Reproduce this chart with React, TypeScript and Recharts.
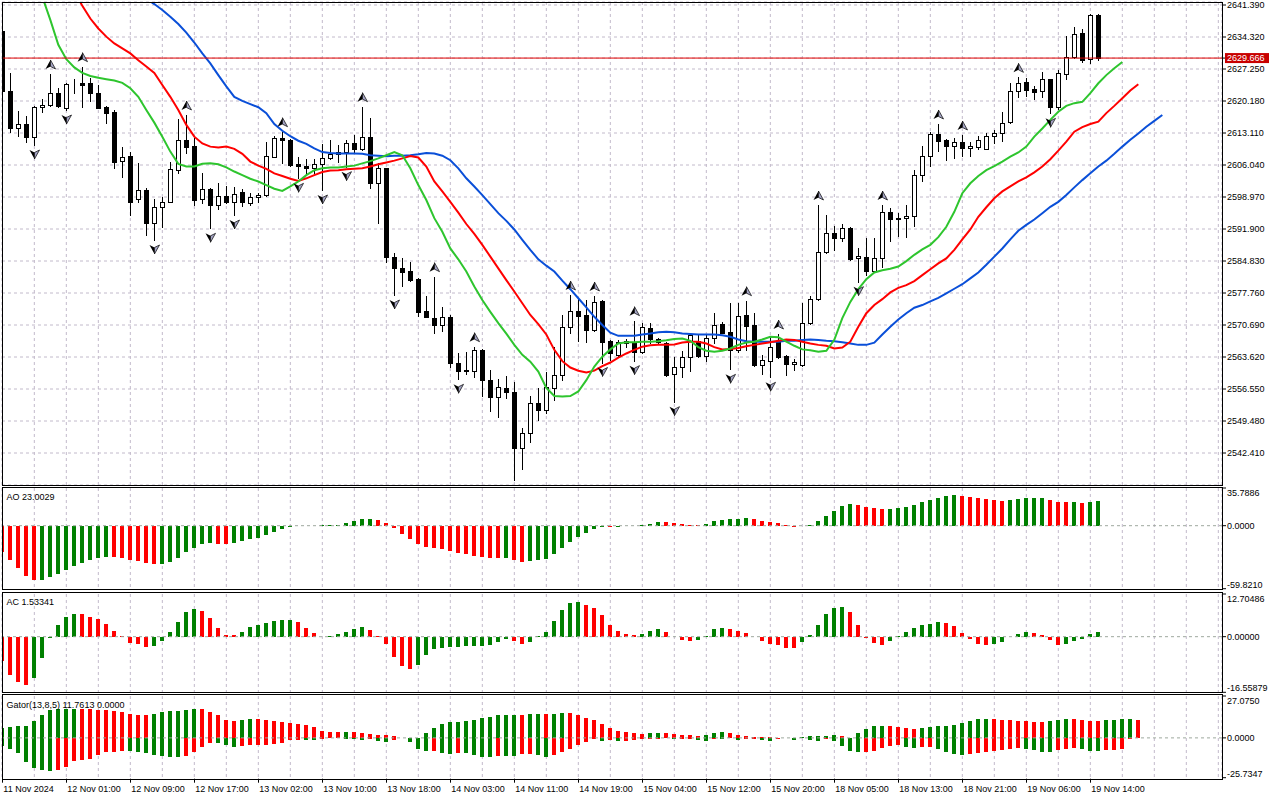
import React from "react";
import {
  ComposedChart,
  Bar,
  Line,
  Scatter,
  XAxis,
  YAxis,
  CartesianGrid,
  ReferenceLine,
} from "recharts";

const FONT = "'Liberation Sans', Arial, sans-serif";
const GREEN = "#008000";
const RED = "#ff0000";
const GRID = "#c2bacb";
const ZERO = "#9ea89e";

// H1 candles, bar 0 = 11 Nov 17:00
const opens = [
  2635.65, 2622.39, 2614.29, 2615.02, 2612.3, 2618.78, 2619.22, 2621.87, 2618.56, 2623.94,
  2624.23, 2624.08, 2621.87, 2618.78, 2617.68, 2606.85, 2608.03, 2598.45, 2600.52, 2593.15,
  2596.69, 2597.79, 2604.94, 2611.56, 2610.24, 2598.45, 2600.74, 2597.28, 2599.19, 2597.94,
  2600.0, 2597.57, 2598.9, 2599.34, 2607.88, 2612.08, 2611.56, 2606.26, 2605.82, 2605.3,
  2606.26, 2607.51, 2608.99, 2608.99, 2610.83, 2609.5, 2612.15, 2602.0, 2605.3, 2585.64,
  2583.36, 2582.62, 2580.78, 2573.78, 2572.16, 2570.69, 2572.38, 2562.37, 2560.75, 2560.6,
  2565.16, 2558.54, 2554.86, 2556.7, 2555.96, 2543.44, 2546.9, 2553.53, 2551.91, 2556.7,
  2559.64, 2570.17, 2573.86, 2572.9, 2569.59, 2575.99, 2567.23, 2564.06, 2567.23, 2566.64,
  2564.8, 2569.95, 2567.52, 2566.79, 2559.86, 2561.34, 2563.55, 2567.23, 2563.84, 2567.74,
  2570.91, 2569.14, 2565.16, 2572.9, 2570.69, 2561.85, 2562.81, 2567.23, 2563.84, 2562.07,
  2561.85, 2571.2, 2576.36, 2586.89, 2590.94, 2589.84, 2592.05, 2585.42, 2585.79, 2582.69,
  2585.42, 2595.58, 2594.26, 2594.26, 2594.85, 2603.83, 2608.03, 2612.89, 2611.56, 2610.31,
  2611.05, 2609.72, 2610.09, 2609.5, 2612.45, 2613.18, 2615.61, 2622.39, 2624.38, 2622.76,
  2622.46, 2624.97, 2618.78, 2626.15, 2629.96, 2635.13, 2629.39, 2639.18,
];
const highs = [
  2635.8, 2626.44, 2617.97, 2616.87, 2619.07, 2620.62, 2626.15, 2622.98, 2624.23, 2624.97,
  2627.77, 2625.19, 2623.71, 2619.07, 2618.19, 2610.09, 2608.99, 2606.41, 2600.89, 2598.45,
  2598.9, 2606.78, 2616.13, 2617.09, 2611.93, 2604.2, 2600.89, 2602.14, 2601.4, 2601.25,
  2600.66, 2599.93, 2599.93, 2611.05, 2612.45, 2613.4, 2611.71, 2607.88, 2607.29, 2607.29,
  2610.68, 2611.56, 2610.46, 2611.56, 2612.67, 2618.93, 2616.35, 2606.41, 2605.45, 2586.67,
  2585.42, 2584.68, 2581.0, 2577.1, 2581.37, 2574.59, 2572.9, 2564.43, 2564.8, 2565.9,
  2565.31, 2560.75, 2558.69, 2559.42, 2558.17, 2547.86, 2555.0, 2556.7, 2560.38, 2565.9,
  2572.9, 2577.32, 2576.36, 2576.21, 2577.1, 2576.21, 2567.37, 2567.37, 2567.52, 2571.65,
  2571.2, 2571.06, 2567.74, 2567.01, 2563.55, 2565.02, 2568.7, 2568.7, 2568.48, 2573.27,
  2571.43, 2575.62, 2575.62, 2576.06, 2573.42, 2564.06, 2567.74, 2568.7, 2563.99, 2563.1,
  2575.62, 2577.1, 2597.2, 2594.99, 2592.56, 2593.01, 2592.27, 2587.63, 2589.84, 2589.84,
  2597.2, 2596.47, 2595.51, 2597.2, 2604.94, 2610.24, 2613.4, 2615.1, 2611.71, 2611.93,
  2612.67, 2611.2, 2612.45, 2613.04, 2613.77, 2617.82, 2624.08, 2625.41, 2625.19, 2623.5,
  2626.66, 2625.12, 2627.03, 2634.54, 2636.46, 2636.01, 2639.3, 2639.3,
];
const lows = [
  2622.2, 2613.4, 2612.45, 2611.2, 2610.46, 2617.82, 2619.07, 2618.93, 2618.19, 2622.02,
  2618.93, 2620.25, 2618.56, 2615.39, 2605.3, 2603.31, 2594.99, 2597.94, 2590.57, 2589.47,
  2592.42, 2597.79, 2604.2, 2608.77, 2597.2, 2597.72, 2592.05, 2596.32, 2597.57, 2594.99,
  2596.98, 2597.2, 2597.94, 2599.19, 2607.88, 2606.41, 2605.82, 2603.09, 2604.2, 2604.2,
  2600.52, 2607.29, 2606.78, 2605.67, 2608.99, 2609.35, 2600.89, 2593.3, 2584.68, 2577.32,
  2579.3, 2580.48, 2572.68, 2572.38, 2568.99, 2569.44, 2561.48, 2558.69, 2559.86, 2559.13,
  2555.0, 2551.76, 2550.29, 2554.49, 2536.44, 2538.8, 2544.91, 2549.7, 2551.17, 2554.12,
  2558.54, 2568.99, 2567.23, 2567.01, 2569.44, 2562.4, 2562.9, 2563.84, 2565.9, 2562.81,
  2564.43, 2566.79, 2566.64, 2559.42, 2553.75, 2559.27, 2560.6, 2563.69, 2562.81, 2566.64,
  2568.85, 2560.89, 2564.8, 2565.16, 2561.7, 2559.86, 2559.13, 2563.32, 2559.64, 2560.75,
  2561.7, 2570.91, 2576.21, 2586.67, 2587.26, 2589.32, 2585.05, 2580.26, 2581.74, 2582.47,
  2583.43, 2589.32, 2590.35, 2590.2, 2592.64, 2602.58, 2605.82, 2609.21, 2607.14, 2607.51,
  2608.03, 2608.03, 2609.5, 2609.5, 2610.97, 2611.42, 2615.39, 2621.14, 2621.29, 2620.55,
  2621.14, 2617.45, 2618.34, 2625.12, 2629.61, 2628.87, 2628.65, 2629.24,
];
const closes = [
  2622.39, 2614.29, 2615.02, 2612.3, 2618.78, 2619.22, 2621.87, 2619.07, 2623.94, 2624.0,
  2623.79, 2621.87, 2618.71, 2617.6, 2606.78, 2607.73, 2597.94, 2600.52, 2593.15, 2596.69,
  2597.87, 2605.08, 2611.56, 2610.09, 2598.31, 2600.66, 2597.28, 2599.19, 2597.79, 2599.63,
  2597.94, 2598.9, 2599.34, 2608.03, 2611.93, 2611.56, 2606.04, 2605.82, 2605.3, 2606.26,
  2607.51, 2608.47, 2608.47, 2610.83, 2609.5, 2612.15, 2602.0, 2605.3, 2585.64, 2583.21,
  2582.47, 2580.63, 2573.64, 2572.53, 2570.69, 2572.38, 2562.37, 2560.6, 2560.45, 2565.16,
  2558.54, 2554.86, 2556.92, 2555.96, 2543.44, 2546.9, 2553.53, 2551.91, 2556.92, 2559.64,
  2570.17, 2573.86, 2572.68, 2569.59, 2575.84, 2567.01, 2564.43, 2567.01, 2566.64, 2564.8,
  2570.17, 2567.52, 2566.93, 2559.64, 2561.34, 2563.55, 2568.48, 2563.84, 2567.74, 2570.69,
  2568.99, 2565.16, 2572.68, 2570.47, 2561.85, 2562.96, 2565.9, 2563.69, 2562.07, 2562.59,
  2571.2, 2576.36, 2586.89, 2590.94, 2589.84, 2592.05, 2585.2, 2585.93, 2582.69, 2585.42,
  2595.58, 2594.04, 2594.04, 2594.85, 2603.83, 2608.03, 2612.89, 2611.42, 2610.24, 2611.05,
  2609.72, 2610.24, 2611.56, 2612.45, 2613.18, 2615.39, 2622.39, 2624.23, 2622.61, 2622.24,
  2624.97, 2618.78, 2626.3, 2629.96, 2634.91, 2629.24, 2639.18, 2629.666,
];
const LAST_PRICE = 2629.666;

// Alligator (lines run past the last bar because of their shift)
const LIPS_FROM = 4;
const lips = [
  2648.0, 2643.2, 2638.1, 2632.6, 2629.4, 2627.6, 2626.4, 2625.7, 2625.3, 2625.0,
  2624.7, 2624.2, 2623.0, 2621.1, 2618.2, 2615.4, 2612.3, 2609.0, 2606.3, 2605.7,
  2605.7, 2606.3, 2606.4, 2606.2, 2605.5, 2604.6, 2603.8, 2603.0, 2602.4, 2601.6,
  2600.8, 2600.3, 2601.3, 2602.4, 2603.8, 2604.9, 2605.3, 2605.5, 2605.5, 2605.7,
  2605.9, 2606.4, 2606.9, 2607.5, 2608.2, 2608.9, 2608.2, 2605.3, 2601.6, 2598.3,
  2594.3, 2591.3, 2587.6, 2585.2, 2582.5, 2579.2, 2576.2, 2573.6, 2571.1, 2568.8,
  2566.3, 2564.1, 2562.6, 2560.4, 2556.8, 2555.0, 2554.9, 2555.0, 2556.0, 2558.5,
  2561.5, 2563.7, 2565.3, 2566.6, 2566.9, 2566.9, 2567.0, 2567.0, 2567.1, 2567.3,
  2567.6, 2567.7, 2567.2, 2565.8, 2565.0, 2564.8, 2565.0, 2565.5, 2566.3, 2566.8,
  2567.0, 2567.5, 2568.1, 2568.0, 2567.0, 2566.1, 2565.3, 2565.1, 2564.8, 2565.0,
  2567.4, 2572.2, 2575.8, 2578.6, 2580.8, 2582.3, 2582.8, 2583.1, 2583.6, 2584.8,
  2586.2, 2587.4, 2588.4, 2590.1, 2592.4, 2595.7, 2599.8, 2602.0, 2603.6, 2604.9,
  2605.8, 2606.8, 2607.9, 2608.8, 2610.1, 2612.3, 2614.1, 2616.0, 2617.8, 2619.1,
  2619.7, 2620.0, 2621.9, 2624.1, 2625.9, 2627.4, 2628.8,
];
const TEETH_FROM = 9;
const teeth = [
  2644.5, 2641.2, 2638.4, 2636.2, 2634.4, 2632.9, 2631.8, 2630.7, 2629.2, 2627.8,
  2626.4, 2623.7, 2621.1, 2618.2, 2614.9, 2612.3, 2610.8, 2610.1, 2609.9, 2610.1,
  2609.6, 2608.5, 2606.8, 2605.9, 2605.2, 2604.2, 2603.6, 2603.0, 2602.5, 2603.1,
  2603.8, 2604.5, 2604.8, 2604.9, 2605.1, 2605.2, 2605.3, 2605.7, 2606.2, 2606.6,
  2607.0, 2607.5, 2608.0, 2607.7, 2605.7, 2602.4, 2600.2, 2597.9, 2595.5, 2593.0,
  2590.8, 2588.4, 2585.8, 2583.2, 2580.6, 2578.1, 2575.5, 2572.9, 2570.9, 2568.6,
  2565.2, 2562.7, 2561.3, 2560.6, 2560.2, 2560.6, 2561.6, 2562.4, 2563.5, 2564.4,
  2565.2, 2565.9, 2566.2, 2566.3, 2566.3, 2566.4, 2566.8, 2567.0, 2567.0, 2566.6,
  2565.8, 2565.3, 2565.4, 2565.6, 2566.0, 2566.3, 2566.6, 2566.9, 2567.2, 2567.5,
  2567.4, 2567.0, 2566.6, 2566.3, 2566.1, 2565.5, 2565.7, 2567.0, 2570.3, 2573.3,
  2575.1, 2576.4, 2577.9, 2578.9, 2579.5, 2580.4, 2581.7, 2583.0, 2584.3, 2585.4,
  2587.3, 2589.6, 2591.8, 2594.6, 2596.7, 2598.7, 2600.2, 2601.3, 2602.4, 2603.3,
  2604.4, 2605.7, 2607.3, 2609.2, 2611.2, 2613.4, 2614.4, 2615.1, 2615.6, 2617.5,
  2619.1, 2620.8, 2622.5, 2623.9,
];
const JAW_FROM = 18;
const jaw = [
  2642.8, 2641.6, 2640.3, 2638.8, 2637.2, 2635.3, 2633.1, 2630.7, 2628.5, 2625.9,
  2623.4, 2621.1, 2620.2, 2619.5, 2618.8, 2617.5, 2615.1, 2613.6, 2612.4, 2611.4,
  2610.7, 2609.7, 2608.9, 2608.7, 2608.6, 2608.6, 2608.6, 2608.5, 2608.2, 2608.1,
  2608.0, 2608.1, 2608.1, 2608.2, 2608.4, 2608.7, 2608.6, 2608.1, 2607.1, 2605.3,
  2603.1, 2601.3, 2599.4, 2597.4, 2595.4, 2593.7, 2591.8, 2589.5, 2587.3, 2585.2,
  2583.8, 2582.5, 2580.5, 2578.6, 2576.6, 2574.6, 2572.5, 2570.7, 2569.0, 2568.3,
  2568.3, 2568.3, 2568.6, 2568.8, 2569.1, 2569.2, 2569.1, 2568.8, 2568.7, 2568.6,
  2568.6, 2568.6, 2568.4, 2568.1, 2567.5, 2567.1, 2567.0, 2567.0, 2567.0, 2567.0,
  2567.2, 2567.2, 2567.4, 2567.5, 2567.4, 2567.2, 2567.1, 2566.9, 2566.6, 2566.3,
  2566.3, 2566.8, 2568.6, 2570.3, 2571.9, 2573.3, 2574.5, 2575.1, 2575.9, 2576.7,
  2577.7, 2578.7, 2579.7, 2581.0, 2582.3, 2584.0, 2585.8, 2587.6, 2589.6, 2591.5,
  2592.8, 2594.0, 2595.4, 2596.8, 2597.9, 2599.4, 2601.1, 2602.7, 2604.2, 2605.7,
  2607.0, 2608.5, 2610.1, 2611.6, 2613.0, 2614.5, 2615.8, 2617.1,
];

// Fractal bars
const fractalUp = [6, 10, 23, 35, 45, 54, 59, 71, 74, 79, 93, 97, 102, 110, 117, 120, 127];
const fractalDown = [4, 8, 19, 26, 29, 37, 40, 43, 49, 57, 64, 75, 79, 84, 91, 96, 107, 131];

// Awesome Oscillator
const ao = [
  -25.0, -32.9, -40.5, -47.8, -51.9, -51.5, -48.7, -46.2, -42.4, -38.3,
  -35.8, -32.9, -31.0, -29.8, -30.1, -31.0, -32.9, -33.9, -35.8, -36.7,
  -36.4, -34.2, -31.0, -25.3, -21.2, -17.7, -16.8, -17.0, -17.7, -16.8,
  -14.6, -13.0, -11.4, -9.2, -6.0, -3.2, -1.3, -0.5, -0.3, -0.5,
  0.2, 0.4, 0.9, 2.2, 4.1, 6.0, 6.3, 5.1, 2.2, -2.5,
  -7.9, -13.0, -17.1, -20.6, -21.5, -22.5, -24.1, -26.3, -27.2, -29.1,
  -29.8, -30.7, -31.0, -30.8, -32.9, -34.8, -33.5, -32.6, -31.7, -27.2,
  -21.2, -15.8, -10.8, -7.0, -3.2, -1.3, -1.4, -0.9, -0.3, 0.1,
  0.3, 1.3, 3.2, 3.1, 2.2, 1.3, 0.5, 0.3, 1.3, 4.1,
  5.1, 6.0, 6.2, 7.0, 6.0, 4.1, 3.2, 2.2, 0.3, -1.6,
  -0.2, 0.3, 4.1, 8.9, 13.6, 18.4, 20.3, 19.3, 17.4, 16.5,
  15.5, 15.6, 16.5, 17.4, 19.3, 22.2, 24.1, 26.0, 27.9, 28.8,
  27.9, 26.9, 26.0, 25.0, 24.1, 23.1, 24.1, 25.0, 26.0, 26.1,
  26.2, 24.1, 22.2, 22.1, 22.2, 22.0, 22.5, 23.0029,
];
const aoColorRuns = "R5 G9 R6 G7 R2 G10 R1 G7 R16 G1 R2 G10 R1 G6 R5 G6 R6 G7 R4 G9 R6 G5 R3 G1 R1 G2";

// Accelerator Oscillator
const ac = [
  -7.34, -11.31, -13.59, -14.28, -12.2, -6.45, -0.5, 3.57, 5.95, 6.84,
  6.8, 5.95, 5.16, 3.87, 1.79, 0.1, -1.79, -2.28, -2.98, -2.68,
  -1.19, 1.49, 4.27, 7.44, 8.33, 7.74, 5.56, 2.68, 0.6, 0.5,
  1.49, 2.98, 3.57, 4.17, 4.76, 5.06, 5.1, 4.46, 2.68, 1.19,
  0.03, 0.2, 0.89, 1.49, 2.38, 2.98, 2.08, 0.3, -2.08, -5.95,
  -8.63, -9.52, -8.33, -5.36, -3.57, -3.27, -2.98, -2.95, -2.92, -2.68,
  -2.65, -2.38, -1.49, -0.6, -1.19, -2.08, -1.49, 0.2, 1.49, 4.76,
  8.04, 10.12, 10.42, 9.52, 8.63, 6.55, 3.57, 1.79, 0.89, 0.6,
  0.89, 1.79, 2.38, 1.49, -0.05, -0.89, -1.19, -0.89, 0.3, 2.38,
  2.68, 2.38, 1.79, 1.19, -0.05, -1.19, -2.08, -2.38, -3.27, -3.3,
  -1.49, 0.6, 3.57, 6.84, 8.63, 8.93, 7.44, 3.57, -0.3, -1.79,
  -2.38, -1.19, 0.3, 1.49, 2.68, 3.57, 3.87, 4.46, 4.17, 3.27,
  1.19, -0.6, -2.08, -2.38, -2.08, -1.49, 0.05, 0.89, 1.49, 1.19,
  0.6, -0.89, -2.38, -2.08, -1.19, -0.6, 0.89, 1.53341,
];
const acColorRuns = "R4 G6 R9 G6 R5 G7 R4 G5 R6 G12 R2 G7 R7 G3 R4 G4 R9 G6 R5 G7 R6 G5 R4 G5";

// Gator oscillator (13,8,5)
const gatorUp = [
  6.47, 6.9, 7.54, 7.97, 10.78, 14.65, 18.32, 18.4, 18.5, 18.6,
  18.5, 18.4, 18.3, 17.89, 17.46, 16.81, 15.73, 14.87, 14.8, 15.73,
  16.59, 17.67, 17.7, 18.32, 18.96, 18.75, 16.81, 15.09, 11.85, 11.21,
  11.3, 12.5, 12.07, 11.64, 10.99, 10.34, 9.7, 8.84, 8.19, 6.9,
  4.74, 4.09, 4.05, 4.1, 4.0, 3.45, 2.59, 1.94, 1.72, 1.51,
  0.22, 0.1, 0.15, 3.45, 6.68, 8.84, 10.13, 10.56, 11.21, 11.85,
  13.15, 13.79, 14.87, 15.09, 15.1, 15.0, 15.52, 15.6, 15.5, 15.73,
  16.16, 16.1, 15.09, 13.15, 11.85, 9.27, 6.68, 4.74, 4.09, 3.45,
  2.8, 2.85, 3.45, 3.4, 2.8, 2.16, 2.1, 1.51, 2.16, 3.45,
  3.5, 3.4, 2.16, 1.51, 0.86, 0.65, 0.25, 0.2, 0.2, 0.05,
  0.65, 1.29, 1.3, 1.35, 1.94, 1.29, 0.2, 3.23, 5.82, 7.76,
  7.8, 7.7, 7.11, 6.47, 5.82, 6.47, 7.11, 7.76, 7.8, 8.4,
  9.7, 10.99, 12.28, 12.3, 12.2, 11.64, 11.6, 10.99, 10.8, 10.56,
  10.5, 11.21, 11.85, 12.5, 12.45, 11.85, 11.21, 11.15, 11.4, 11.8,
  12.3, 12.5, 11.7613,
];
const gatorDown = [
  -5.39, -6.9, -9.7, -15.73, -19.61, -20.9, -21.55, -20.47, -18.53, -15.09,
  -14.01, -13.36, -10.78, -9.27, -8.84, -8.19, -8.25, -9.27, -9.7, -10.99,
  -11.42, -12.28, -12.5, -11.85, -9.27, -5.82, -3.23, -3.3, -4.74, -6.03,
  -5.39, -4.74, -4.7, -4.31, -3.66, -3.23, -1.5, -1.1, -1.2, -1.3,
  -0.5, -0.3, -0.2, -0.6, -0.9, -1.1, -0.5, -1.7, -2.4, -1.5,
  -0.3, -2.8, -6.9, -8.6, -8.55, -9.7, -10.3, -9.7, -9.75, -10.8,
  -12.3, -12.35, -11.85, -11.9, -12.0, -10.56, -10.5, -11.2, -12.5, -11.2,
  -8.84, -6.9, -4.74, -2.37, -0.43, -2.16, -1.51, -2.16, -2.1, -1.08,
  -0.65, -0.43, -0.4, -0.38, -0.86, -0.8, -0.65, -1.51, -1.72, -0.86,
  -0.9, -0.22, -1.08, -1.0, -0.86, -1.08, -1.72, -0.65, 0, -1.08,
  -0.2, -1.08, -1.72, -0.43, -1.72, -4.96, -8.19, -8.84, -8.8, -8.19,
  -6.25, -4.96, -4.9, -5.6, -6.25, -6.2, -6.1, -6.9, -8.84, -10.13,
  -10.78, -10.13, -9.48, -8.84, -8.19, -7.54, -6.9, -6.85, -6.95, -7.54,
  -8.84, -8.9, -7.54, -7.11, -6.68, -6.9, -8.19, -8.25, -8.0, -7.9,
  -7.1, -0.4, 0,
];
const gatorUpRuns = "G10 R9 G6 R5 G2 R11 G1 R7 G14 R1 G2 R1 G2 R10 G2 R5 G3 R8 G6 R2 G4 R4 G9 R7 G3 R4 G4 R1";
const gatorDownRuns =
  "G7 R9 G7 R4 G3 R8 G2 R3 G3 R1 G2 R2 G3 R1 G2 R1 G4 R1 G2 R2 G2 R6 G1 R1 G1 R6 G1 R2 G2 R1 G1 R1 G1 R2 G2 R2 G1 R1 G2 R1 G4 R5 G2 R2 G4 R7 G4 R3 G3 R5";

// Axes
const priceTicks = [
  2641.39, 2634.32, 2627.25, 2620.18, 2613.11, 2606.04, 2598.97, 2591.9,
  2584.83, 2577.76, 2570.69, 2563.62, 2556.55, 2549.48, 2542.41,
];
const aoTicks = [-59.821, 0, 35.7886];
const acTicks = [-16.55879, 0, 12.70486];
const gatorTicks = [-25.7347, 0, 27.075];
const gridBars = [
  0, 4, 8, 12, 16, 20, 24, 28, 32, 36, 40, 44, 48, 52, 56, 60, 64, 68, 72, 76,
  80, 84, 88, 92, 96, 100, 104, 108, 112, 116, 120, 124, 128, 132, 136, 140, 144, 148, 152,
];
const timeBars = [0, 8, 16, 24, 32, 40, 48, 56, 64, 72, 80, 88, 96, 104, 112, 120, 128, 136];
const timeLabels = [
  "11 Nov 2024", "12 Nov 01:00", "12 Nov 09:00", "12 Nov 17:00", "13 Nov 02:00",
  "13 Nov 10:00", "13 Nov 18:00", "14 Nov 03:00", "14 Nov 11:00", "14 Nov 19:00",
  "15 Nov 04:00", "15 Nov 12:00", "15 Nov 20:00", "18 Nov 05:00", "18 Nov 13:00",
  "18 Nov 21:00", "19 Nov 06:00", "19 Nov 14:00",
];

const X_DOMAIN: [number, number] = [-0.04, 152.46];
const PRICE_DOMAIN: [number, number] = [2535.34, 2642.053];

const expandRuns = (s: string) =>
  s.split(" ").flatMap((t) => Array(Number(t.slice(1))).fill(t[0] === "G" ? GREEN : RED));

const aoColors = expandRuns(aoColorRuns);
const acColors = expandRuns(acColorRuns);
const guColors = expandRuns(gatorUpRuns);
const gdColors = expandRuns(gatorDownRuns);

const priceRows = Array.from({ length: JAW_FROM + jaw.length }, (_, i) => {
  const has = i < opens.length;
  return {
    i,
    range: has ? [lows[i], highs[i]] : undefined,
    o: has ? opens[i] : undefined,
    h: has ? highs[i] : undefined,
    l: has ? lows[i] : undefined,
    c: has ? closes[i] : undefined,
    lips: i >= LIPS_FROM && i - LIPS_FROM < lips.length ? lips[i - LIPS_FROM] : undefined,
    teeth: i >= TEETH_FROM && i - TEETH_FROM < teeth.length ? teeth[i - TEETH_FROM] : undefined,
    jaw: i >= JAW_FROM ? jaw[i - JAW_FROM] : undefined,
  };
});
const upFractals = fractalUp.map((i) => ({ i, v: highs[i] }));
const downFractals = fractalDown.map((i) => ({ i, v: lows[i] }));
const aoRows = ao.map((v, i) => ({ i, v, col: aoColors[i] }));
const acRows = ac.map((v, i) => ({ i, v, col: acColors[i] }));
const gatorRows = gatorUp.map((u, i) => ({ i, up: u, dn: gatorDown[i], cu: guColors[i], cd: gdColors[i] }));

const ok = (n: any) => typeof n === "number" && isFinite(n);

const Candle = (props: any) => {
  const { x, y, width, height, payload } = props;
  if (!payload || payload.o == null || !ok(x) || !ok(y) || !ok(height)) return <g />;
  const { o, h, l, c } = payload;
  const top = Math.min(y, y + height);
  const span = Math.abs(height);
  const toY = (v: number) => top + (h === l ? 0 : ((h - v) / (h - l)) * span);
  const cx = Math.floor(x + width / 2) + 0.5;
  const bTop = Math.round(toY(Math.max(o, c))) + 0.5;
  const bBot = Math.round(toY(Math.min(o, c))) + 0.5;
  const bull = c >= o;
  return (
    <g>
      <line x1={cx} x2={cx} y1={Math.round(top)} y2={Math.round(top + span) + 1} stroke="#000" strokeWidth={1} />
      <rect
        x={cx - 2}
        y={bTop}
        width={4}
        height={Math.max(bBot - bTop, 0)}
        fill={bull ? "#fff" : "#000"}
        stroke="#000"
        strokeWidth={1}
      />
    </g>
  );
};

const histShape = (colKey: string) => (props: any) => {
  const { x, y, width, height, payload } = props;
  if (!ok(x) || !ok(y) || !ok(height)) return <g />;
  const t = Math.round(Math.min(y, y + height));
  const b = Math.round(Math.max(y, y + height));
  if (b <= t) return <g />;
  const left = Math.floor(x + width / 2) - 2;
  return <rect x={left} y={t} width={4} height={b - t} fill={payload[colKey]} />;
};

const FractalUp = (props: any) => {
  const { cx, cy } = props;
  if (!ok(cx) || !ok(cy)) return <g />;
  const x = Math.round(cx) + 0.5;
  const tip = cy - 14;
  const base = cy - 5;
  return (
    <g>
      <path d={`M${x},${tip} L${x},${base - 2.5} L${x - 5},${base} Z`} fill="#000" />
      <path d={`M${x},${tip} L${x + 5},${base} L${x},${base - 2.5} Z`} fill="#a4a4c4" stroke="#000" strokeWidth={0.7} />
    </g>
  );
};

const FractalDown = (props: any) => {
  const { cx, cy } = props;
  if (!ok(cx) || !ok(cy)) return <g />;
  const x = Math.round(cx) + 0.5;
  const tip = cy + 14;
  const base = cy + 5;
  return (
    <g>
      <path d={`M${x},${tip} L${x},${base + 2.5} L${x - 5},${base} Z`} fill="#000" />
      <path d={`M${x},${tip} L${x + 5},${base} L${x},${base + 2.5} Z`} fill="#a4a4c4" stroke="#000" strokeWidth={0.7} />
    </g>
  );
};

const PriceTick = (props: any) => {
  const { x, y, payload } = props;
  const v = payload.value as number;
  if (v === LAST_PRICE) {
    return (
      <g>
        <rect x={x - 2} y={y - 5} width={44} height={10} fill="#c80000" />
        <text x={x} y={y + 3.3} fontSize={9} fontFamily={FONT} fill="#fff">
          {v.toFixed(3)}
        </text>
      </g>
    );
  }
  return (
    <text x={x} y={y + 3.3} fontSize={9} fontFamily={FONT} fill="#000">
      {v.toFixed(3)}
    </text>
  );
};

const makeIndTick = (dec: number) => (props: any) => {
  const { x, y, payload } = props;
  const v = payload.value as number;
  const dy = v > 0 ? 7.6 : v < 0 ? -1 : 3.2;
  return (
    <text x={x} y={y + dy} fontSize={9} fontFamily={FONT} fill="#000">
      {v.toFixed(dec)}
    </text>
  );
};

const TimeTick = (props: any) => {
  const { x, y, payload } = props;
  const j = timeBars.indexOf(payload.value);
  if (j < 0) return <g />;
  const px = Math.floor(x) + 0.5;
  return (
    <g>
      <line x1={px} x2={px} y1={y + 1} y2={y + 5} stroke="#000" />
      <text x={x + 1} y={y + 14} fontSize={9} fontFamily={FONT} fill="#000">
        {timeLabels[j]}
      </text>
    </g>
  );
};

const hiddenX = (
  <XAxis dataKey="i" type="number" domain={X_DOMAIN} allowDataOverflow hide ticks={gridBars} />
);

const IndicatorPanel = ({
  top,
  height,
  marginBottom,
  rows,
  ticks,
  dec,
}: {
  top: number;
  height: number;
  marginBottom: number;
  rows: any[];
  ticks: number[];
  dec: number;
}) => (
  <div style={{ position: "absolute", left: 0, top }}>
    <ComposedChart width={1280} height={height} data={rows} margin={{ top: 5, right: 0, bottom: marginBottom, left: 2 }}>
      <CartesianGrid horizontal={false} stroke={GRID} strokeDasharray="3 3" />
      {hiddenX}
      <YAxis
        orientation="right"
        width={58}
        type="number"
        domain={[ticks[0], ticks[2]]}
        allowDataOverflow
        ticks={ticks}
        interval={0}
        axisLine={false}
        tickLine={{ stroke: "#000" }}
        tickSize={4}
        tickMargin={1}
        tick={makeIndTick(dec)}
      />
      <ReferenceLine y={0} stroke={ZERO} strokeDasharray="3 3" />
      <Bar dataKey="v" barSize={4} isAnimationActive={false} shape={histShape("col")} />
    </ComposedChart>
  </div>
);

export default function App() {
  return (
    <div
      style={{
        position: "absolute",
        left: 0,
        top: 0,
        width: 1280,
        height: 800,
        background: "#fff",
        fontFamily: FONT,
        overflow: "hidden",
      }}
    >
      {/* price panel */}
      <div style={{ position: "absolute", left: 0, top: 0 }}>
        <ComposedChart width={1280} height={490} data={priceRows} margin={{ top: 2, right: 0, bottom: 5, left: 2 }}>
          <CartesianGrid stroke={GRID} strokeDasharray="3 3" />
          {hiddenX}
          <YAxis
            orientation="right"
            width={58}
            type="number"
            domain={PRICE_DOMAIN}
            allowDataOverflow
            ticks={[...priceTicks, LAST_PRICE]}
            interval={0}
            axisLine={false}
            tickLine={{ stroke: "#000" }}
            tickSize={4}
            tickMargin={1}
            tick={PriceTick}
          />
          <Bar dataKey="range" barSize={4} isAnimationActive={false} shape={Candle} />
          <Line dataKey="jaw" type="linear" stroke="#0a4fd8" strokeWidth={2} dot={false} isAnimationActive={false} />
          <Line dataKey="teeth" type="linear" stroke="#ff0000" strokeWidth={2} dot={false} isAnimationActive={false} />
          <Line dataKey="lips" type="linear" stroke="#2ec52e" strokeWidth={2} dot={false} isAnimationActive={false} />
          <ReferenceLine y={LAST_PRICE} stroke="#e00000" strokeWidth={1} />
          <Scatter data={upFractals} dataKey="v" isAnimationActive={false} shape={FractalUp} />
          <Scatter data={downFractals} dataKey="v" isAnimationActive={false} shape={FractalDown} />
        </ComposedChart>
      </div>

      <IndicatorPanel top={483} height={110} marginBottom={4.3} rows={aoRows} ticks={aoTicks} dec={4} />
      <IndicatorPanel top={588.7} height={108.3} marginBottom={5} rows={acRows} ticks={acTicks} dec={5} />

      {/* gator panel with the time axis */}
      <div style={{ position: "absolute", left: 0, top: 691 }}>
        <ComposedChart
          width={1280}
          height={109}
          data={gatorRows}
          stackOffset="sign"
          margin={{ top: 5, right: 0, bottom: 0, left: 2 }}
        >
          <CartesianGrid horizontal={false} stroke={GRID} strokeDasharray="3 3" />
          <XAxis
            dataKey="i"
            type="number"
            domain={X_DOMAIN}
            allowDataOverflow
            ticks={gridBars}
            interval={0}
            height={22.3}
            axisLine={false}
            tickLine={false}
            tickSize={0}
            tickMargin={0}
            tick={TimeTick}
          />
          <YAxis
            orientation="right"
            width={58}
            type="number"
            domain={[gatorTicks[0], gatorTicks[2]]}
            allowDataOverflow
            ticks={gatorTicks}
            interval={0}
            axisLine={false}
            tickLine={{ stroke: "#000" }}
            tickSize={4}
            tickMargin={1}
            tick={makeIndTick(4)}
          />
          <ReferenceLine y={0} stroke={ZERO} strokeDasharray="3 3" />
          <Bar dataKey="up" stackId="g" barSize={4} isAnimationActive={false} shape={histShape("cu")} />
          <Bar dataKey="dn" stackId="g" barSize={4} isAnimationActive={false} shape={histShape("cd")} />
        </ComposedChart>
      </div>

      {/* panel frames and indicator titles */}
      <svg width={1280} height={800} style={{ position: "absolute", left: 0, top: 0, pointerEvents: "none" }}>
        <g fill="none" stroke="#000" strokeWidth={1}>
          <rect x={2.5} y={2.5} width={1220} height={483} />
          <rect x={2.5} y={487.5} width={1220} height={102} />
          <rect x={2.5} y={592.5} width={1220} height={100} />
          <rect x={2.5} y={694.5} width={1220} height={85} />
        </g>
        <g fontFamily={FONT} fontSize={9} fill="#000">
          <text x={6.5} y={500}>{`AO ${ao[ao.length - 1].toFixed(4)}`}</text>
          <text x={6.5} y={605}>{`AC ${ac[ac.length - 1].toFixed(5)}`}</text>
          <text x={6.5} y={707.7}>
            {`Gator(13,8,5) ${gatorUp[gatorUp.length - 1].toFixed(4)} ${Math.abs(gatorDown[gatorDown.length - 1]).toFixed(4)}`}
          </text>
        </g>
      </svg>
    </div>
  );
}
